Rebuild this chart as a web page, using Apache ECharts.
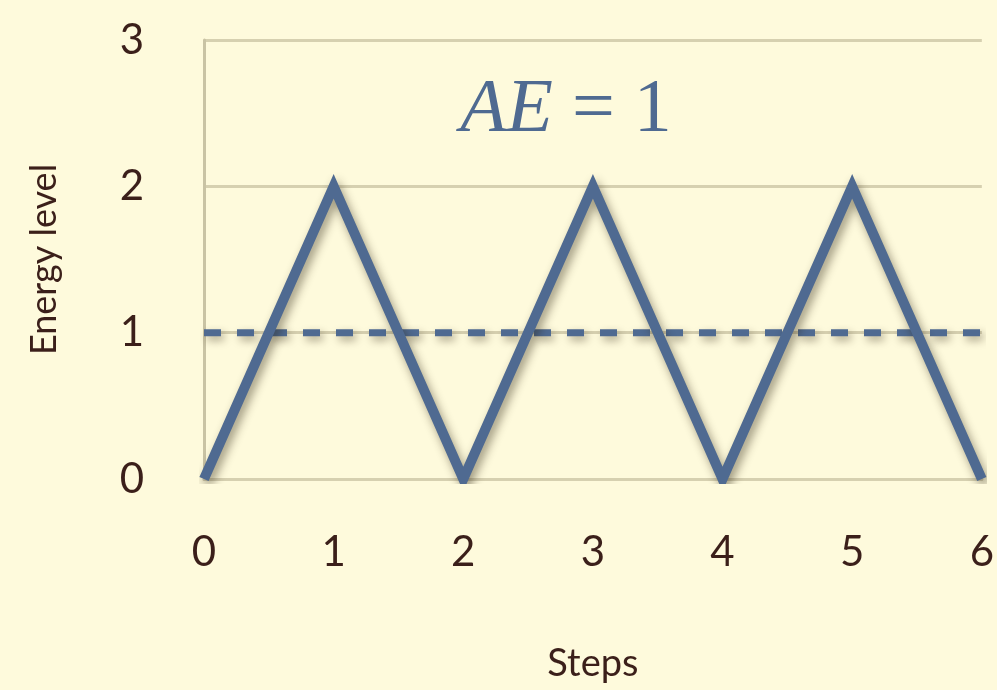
<!DOCTYPE html>
<html>
<head>
<meta charset="utf-8">
<script src="https://cdn.jsdelivr.net/npm/echarts@6/dist/echarts.min.js"></script>
<style>
  html, body { margin: 0; padding: 0; background: #fefadc; }
  #chart { width: 997px; height: 690px; }
</style>
</head>
<body>
<div id="chart"></div>
<script>
// Energy trace over steps and its average level
const steps = [0, 1, 2, 3, 4, 5, 6];
const energy = [0, 2, 0, 2, 0, 2, 0];
const averageEnergy = 1;
const yTicks = [0, 1, 2, 3];

const lineColor = '#4f6a91';
const textColor = '#3b1f1a';
const gridColor = '#d6d0b0';
const labelFont = 'Papyrus, "Lato", "Noto Sans", sans-serif';
const mathFont = '"Liberation Serif", "DejaVu Serif", serif';

const chart = echarts.init(document.getElementById('chart'));

chart.setOption({
  backgroundColor: '#fefadc',
  animation: false,
  grid: { left: 204, right: 15, top: 40, bottom: 211 },
  xAxis: {
    type: 'value',
    min: steps[0],
    max: steps[steps.length - 1],
    interval: 1,
    name: 'Steps',
    nameLocation: 'middle',
    nameGap: 166,
    nameTextStyle: { color: textColor, fontSize: 38, fontFamily: labelFont },
    axisLine: { show: true, lineStyle: { color: gridColor, width: 3 } },
    axisTick: { show: false },
    splitLine: { show: false },
    axisLabel: { color: textColor, fontSize: 42, fontFamily: labelFont, margin: 52 }
  },
  yAxis: {
    type: 'value',
    min: yTicks[0],
    max: yTicks[yTicks.length - 1],
    interval: 1,
    name: 'Energy level',
    nameLocation: 'middle',
    nameGap: 142,
    nameTextStyle: { color: textColor, fontSize: 36, fontFamily: labelFont },
    axisLine: { show: true, lineStyle: { color: '#c9c3a4', width: 3 } },
    axisTick: { show: false },
    splitLine: { show: true, lineStyle: { color: gridColor, width: 3 } },
    axisLabel: { color: textColor, fontSize: 42, fontFamily: labelFont, margin: 60 }
  },
  graphic: [{
    type: 'text',
    x: 566,
    y: 111,
    style: {
      text: '{i|AE}{n|\u00a0=\u00a01}',
      align: 'center',
      verticalAlign: 'middle',
      rich: {
        i: { fontFamily: mathFont, fontStyle: 'italic', fontSize: 76, fill: lineColor },
        n: { fontFamily: mathFont, fontSize: 76, fill: lineColor }
      }
    }
  }],
  series: [
    {
      type: 'line',
      data: [[steps[0], averageEnergy], [steps[steps.length - 1], averageEnergy]],
      symbol: 'none',
      z: 3,
      lineStyle: {
        color: lineColor, width: 7, type: [17, 16],
        shadowColor: 'rgba(40,30,10,0.4)', shadowBlur: 8, shadowOffsetX: 3, shadowOffsetY: 4
      }
    },
    {
      type: 'line',
      data: steps.map((s, i) => [s, energy[i]]),
      symbol: 'none',
      z: 4,
      lineStyle: {
        color: lineColor, width: 10, join: 'miter',
        shadowColor: 'rgba(40,30,10,0.45)', shadowBlur: 10, shadowOffsetX: 3, shadowOffsetY: 5
      }
    }
  ]
});
</script>
</body>
</html>
